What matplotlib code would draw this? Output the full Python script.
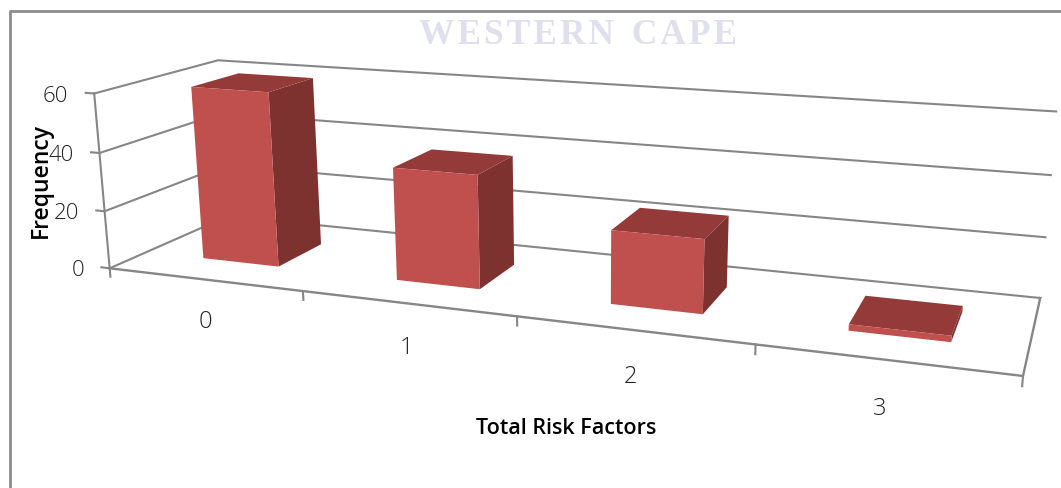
import numpy as np
import matplotlib
matplotlib.use("Agg")
from matplotlib import pyplot as plt
from matplotlib.lines import Line2D

categories = ["0", "1", "2", "3"]
frequency = [60, 38, 24, 2]
y_ticks = [0, 20, 40, 60]

GREY = "#868686"
FRONT = "#C0504D"
TOP = "#943A38"
SIDE = "#7D3230"

W, H = 1061, 488
BAR_START, BAR_W = 0.31, 0.40
DEPTH_START, DEPTH = 0.29, 0.40

# camera calibration: box corners (x, depth, value) -> where they land in the image
box_pts = [(0, 0, 0), (4, 0, 0), (0, 0, 60), (0, 1, 60), (4, 1, 60), (0, 1, 0),
           (4, 1, 0), (1, 0, 0), (2, 0, 0), (3, 0, 0), (0, 0, 20), (4, 1, 20)]
img_pts = [(110, 268), (1022, 376), (94, 93), (218, 61), (1056, 111), (228, 216),
           (1040, 297), (302, 291), (517, 317), (757, 345), (105, 211), (1046, 238)]

A, b = [], []
for (x, y, z), (u, v) in zip(box_pts, img_pts):
    A.append([x, y, z, 1, 0, 0, 0, 0, -u * x, -u * y, -u * z])
    A.append([0, 0, 0, 0, x, y, z, 1, -v * x, -v * y, -v * z])
    b += [u, v]
p = np.linalg.lstsq(np.array(A, float), np.array(b, float), rcond=None)[0]
cam = np.append(p, 1).reshape(3, 4)

fig = plt.figure(figsize=(W / 100, H / 100), dpi=100)
ax = fig.add_axes([0, 0, 1, 1], projection="3d")
ax.set_axis_off()
ax.apply_aspect = lambda position=None: None

# pixels -> the 2d limits of the 3d axes
lim = ax.viewLim
to_view = np.array([[(lim.x1 - lim.x0) / W, 0, lim.x0],
                    [0, (lim.y0 - lim.y1) / H, lim.y1],
                    [0, 0, 1]])
cam2 = to_view @ cam
# third row is only the depth used for sorting, has to stay negative
M = np.array([cam2[0], cam2[1], [0, 1, 0, -2], cam2[2]])
ax.get_proj = lambda: M

# walls and gridlines
for v in y_ticks:
    ax.plot([0, 0, 4], [0, 1, 1], [v, v, v], color=GREY, lw=1.5)
    ax.plot([-0.045, 0], [0, 0], [v, v], color=GREY, lw=1.5)
    ax.text(-0.14, 0, v - 1.8, str(v), ha="right", va="center", fontsize=16,
            family="Open Sans", fontweight="light", color="#222222")
ax.plot([0, 0], [0, 0], [0, 60], color=GREY, lw=1.5)
ax.plot([0, 4, 4], [0, 0, 1], [0, 0, 0], color=GREY, lw=1.7)
for i in range(5):
    ax.plot([i, i], [0, 0], [-3, 0], color=GREY, lw=1.5)

# bars, only the three visible faces get a colour
xs = [i + BAR_START for i in range(len(frequency))]
face_colors = ["none", TOP, FRONT, "none", "none", SIDE] * len(frequency)
ax.bar3d(xs, [DEPTH_START] * 4, [0] * 4, BAR_W, DEPTH, frequency,
         color=face_colors, shade=False, linewidth=0)

for i, c in enumerate(categories):
    ax.text(i + 0.49, 0, -15, c, ha="center", va="center", fontsize=17,
            family="Open Sans", fontweight="light", color="#222222")

# the real 3d axes are hidden, drop their tick labels too
ax.set_xticks([])
ax.set_yticks([])
ax.set_zticks([])

fig.text(566 / W, 1 - 429 / H, "Total Risk Factors", ha="center", va="center",
         fontsize=15.5, family="Open Sans", fontweight="semibold")
fig.text(41 / W, 1 - 180 / H, "Frequency", ha="center", va="center", rotation=90,
         fontsize=16.5, family="Open Sans", fontweight="semibold")
fig.text(578 / W, 1 - 35 / H, "W\u200aE\u200aS\u200aT\u200aE\u200aR\u200aN  C\u200aA\u200aP\u200aE",
         ha="center", va="center", fontsize=25.5, family="Liberation Serif",
         fontweight="bold", color="#DFE0EC")

# picture frame
fig.add_artist(Line2D([9.5 / W, 9.5 / W, 1], [0, 1 - 11 / H, 1 - 11 / H],
                      color="#8C8C8C", lw=2))

plt.savefig("out.png", dpi=100)
